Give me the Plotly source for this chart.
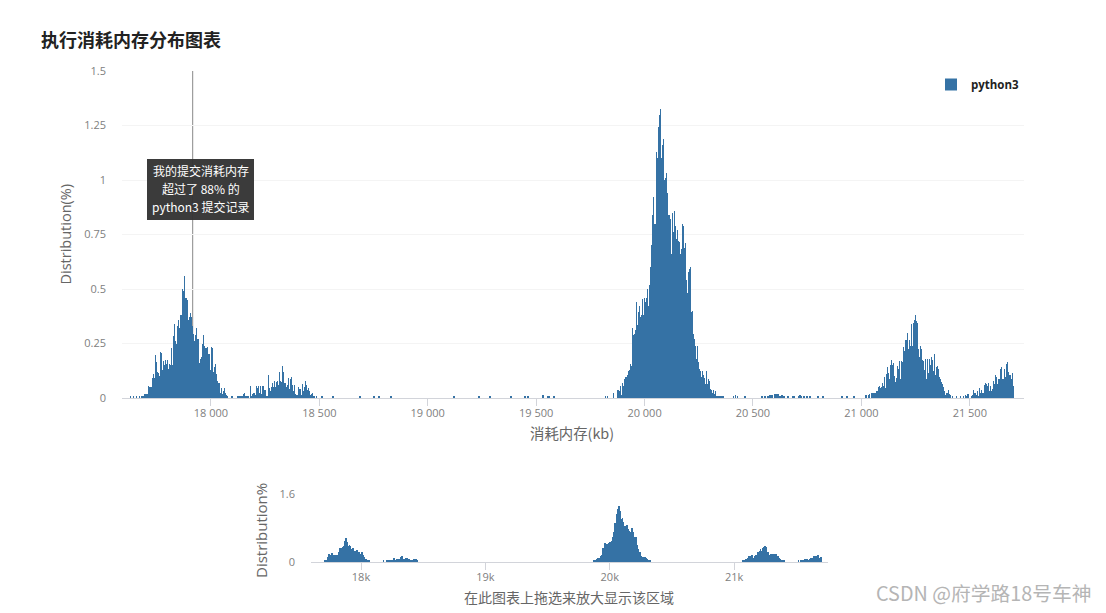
import plotly.graph_objects as go

REF_W, REF_H = 1106, 613
OFF = 8  # the page's own body margin
W, H = REF_W - OFF, REF_H - OFF
bin_kb = 4.612
color = "#3572A5"

start_a = 17629.2
cluster_a = [.005,0,0,.005,0,0,.005,0,0,.005,0,.01,.01,.01,.02,.02,.02,.02,.055,.05,.05,.05,.09,.11,.09,.195,.165,.12,.115,.10,
 .21,.205,.13,.17,.15,.175,.155,.175,.135,.155,.15,.23,.15,.285,.34,.26,.25,.33,.36,.32,.38,.38,.50,.49,.56,.46,.46,.45,.36,.37,
 .39,.37,.33,.295,.26,.29,.32,.27,.27,.16,.18,.19,.25,.29,.24,.23,.23,.235,.2,.2,.13,.235,.23,.12,.14,.155,.11,.08,.07,.07,
 .025,.045,.02,.03,.045,.025,.015,.01,0,0,0,.01,.005]

start_b = 18122.7
cluster_b = [.005,.005,.005,.005,.005,.005,.02,.025,.005,.01,.01,.005,0,.055,.005,.02,.025,.025,.015,.055,.045,.055,.025,.055,.02,.055,.055,.035,.035,.01,
 .01,.105,.045,.03,.05,.07,.05,.08,.05,.075,.08,.06,.12,.08,.075,.145,.12,.07,.07,.05,.06,.09,.04,.085,.095,.06,.03,.06,.02,.012,
 .015,.05,.04,.04,.015,.065,.03,.05,.08,.06,.035,.045,.03,.015,.02,.025,.005,.01,0,.005,0,0,0,0,.005,.01]

start_c = 19819.9
cluster_c = [.005,0,.01,0,0,0,0,0,.025,0,0,0,.035,.035,.03,.055,.015,.07,.055,.085,.095,.095,.105,.125,.13,.155,.145,.32,.29,.295,
 .31,.44,.335,.395,.42,.37,.38,.455,.38,.46,.44,.46,.50,.42,.52,.60,.70,.84,.92,.80,.80,1.13,1.10,1.245,1.30,1.325,1.10,1.16,1.19,1.0,
 1.01,1.03,.94,.84,.84,.82,.66,.85,.76,.86,.79,.73,.77,.72,.715,.66,.685,.80,.79,.69,.71,.54,.48,.58,.59,.60,.395,.40,.295,.27,
 .24,.18,.24,.165,.135,.125,.095,.125,.105,.09,.065,.125,.065,.085,.08,.04,.035,.025,.035,.02,.03,.005,.005,.005,.005,.005,.005,.005,.005,0,
 0,0,0,0,0,0,0,0,.005,0,.015,0,.005,0,0,0,0,0,0,.005,.005]

start_d = 21019.0
cluster_d = [.015,.015,0,.015,.02,0,.025,.025,.025,.025,.025,.03,.03,.05,.055,.045,.05,.07,.055,.095,.045,.11,.14,.115,.085,.15,.175,.15,.16,.10,
 .075,.09,.145,.135,.17,.085,.17,.165,.235,.215,.265,.265,.30,.225,.265,.24,.34,.24,.345,.36,.38,.355,.345,.225,.19,.24,.225,.175,.17,.13,
 .18,.085,.18,.115,.18,.15,.19,.175,.125,.20,.105,.14,.145,.135,.095,.085,.075,.065,.05,.03,.015,.025,.025,.035,.02,.015,0,.005,0,0,
 0,.005,0,0,0,.005,0,0,.005,0,.012,.005,.02,.02,0,0,.005,.015,.035,.025,.025,.015,.03,.005,.045,.025,.035,.025,.025,.06,
 .07,.065,.055,.07,.03,.055,.03,.04,.08,.065,.105,.095,.065,.085,.085,.135,.14,.085,.085,.135,.095,.155,.165,.12,.105,.105,.085,.115,.055]

sparse_x = [18563,18687,18752,18775,18830,19121,19236,19287,19384,19448,19463,19531,19554,19559,19582,
            20541,20555,20569,20578,20588,20601,20606,20615,20620,20624,20629,20634,20638,20643,20661,20684,20689,
            20712,20717,20721,20735,20749,20763,20800,20823,20910,20933,20966]
sparse_y = [.005,.005,.005,.005,.005,.005,.005,.005,.005,.005,.005,.015,.005,.005,.005,
            .005,.005,.005,.012,.012,.02,.02,.02,.005,.005,.005,.012,.005,.005,.005,.005,.005,
            .005,.012,.005,.005,.005,.005,.005,.005,.005,.005,.005]

main_y_ticks = [0, 0.25, 0.5, 0.75, 1, 1.25, 1.5]
main_y_labels = ["0", "0.25", "0.5", "0.75", "1", "1.25", "1.5"]
main_x_ticks = [18000, 18500, 19000, 19500, 20000, 20500, 21000, 21500]
main_x_labels = ["18 000", "18 500", "19 000", "19 500", "20 000", "20 500", "21 000", "21 500"]
nav_x_ticks = [18000, 19000, 20000, 21000]
nav_x_labels = ["18k", "19k", "20k", "21k"]
nav_y_ticks = [0, 1.6]
nav_y_labels = ["0", "1.6"]
my_memory_kb = 17916
nav_visible_from = 0.03
tooltip_lines = ["我的提交消耗内存", "超过了 88% 的", "python3 提交记录"]

xs, ys = [], []
for s, vals in [(start_a, cluster_a), (start_b, cluster_b), (start_c, cluster_c), (start_d, cluster_d)]:
    xs += [s + i * bin_kb for i in range(len(vals))]
    ys += vals
xs += sparse_x
ys += sparse_y
nav_pairs = [(a, b) for a, b in zip(xs, ys) if b >= nav_visible_from]

FONT = "Open Sans, Noto Sans CJK SC, sans-serif"
CJK = "Noto Sans CJK SC, sans-serif"
GRID = "#f4f4f4"
AX = "#d2d4da"
TICK = "#808080"
LAB = "#666666"

def px(a): return (a - OFF) / W
def py(b): return 1 - (b - OFF) / H
def dx(a, b): return [px(a), px(b)]
def dy(top, bottom): return [py(bottom), py(top)]

fig = go.Figure()
fig.add_trace(go.Bar(x=xs, y=ys, width=bin_kb, name="python3", marker=dict(color=color, line=dict(width=0)),
                     xaxis="x", yaxis="y", showlegend=True))
fig.add_trace(go.Bar(x=[p[0] for p in nav_pairs], y=[p[1] for p in nav_pairs], width=bin_kb, name="python3",
                     marker=dict(color=color, line=dict(width=0)), xaxis="x2", yaxis="y2", showlegend=False))

annotations = [
    dict(text="<b>执行消耗内存分布图表</b>", xref="paper", yref="paper", x=px(38.5), y=py(39), xanchor="left",
         yanchor="middle", showarrow=False, font=dict(family=CJK, size=18, color="#222222")),
    dict(text="CSDN @府学路18号车神", xref="paper", yref="paper", x=px(1094), y=py(592), xanchor="right", yanchor="middle",
         showarrow=False, font=dict(family=CJK, size=19.8, color="#b5b5b5")),
    dict(text="消耗内存(kb)", xref="paper", yref="paper", x=px(572), y=py(432.5), xanchor="center", yanchor="middle",
         showarrow=False, font=dict(family=CJK, size=14.4, color=LAB)),
    dict(text="在此图表上拖选来放大显示该区域", xref="paper", yref="paper", x=px(568.5), y=py(597), xanchor="center", yanchor="middle",
         showarrow=False, font=dict(family=CJK, size=14, color=LAB)),
    dict(text="Distribution(%)", xref="paper", yref="paper", x=px(65), y=py(234.5), xanchor="center", yanchor="middle",
         textangle=-90, showarrow=False, font=dict(family=FONT, size=14.5, color=LAB)),
    dict(text="Distribution%", xref="paper", yref="paper", x=px(261), y=py(531), xanchor="center", yanchor="middle",
         textangle=-90, showarrow=False, font=dict(family=FONT, size=15, color=LAB)),
]
for line, yc in zip(tooltip_lines, [170.5, 188.5, 206.5]):
    annotations.append(dict(text=line, xref="paper", yref="paper", x=px(200.5), y=py(yc), xanchor="center", yanchor="middle",
                            showarrow=False, font=dict(family=CJK, size=12, color="white")))

fig.update_layout(
    width=W, height=H, autosize=False,
    margin=dict(l=0, r=0, t=0, b=0),
    paper_bgcolor="white", plot_bgcolor="white",
    bargap=0, barmode="overlay",
    font=dict(family=FONT, size=11, color=TICK),
    xaxis=dict(domain=dx(122, 1024), range=[17590, 21750], tickvals=main_x_ticks, ticktext=main_x_labels, automargin=False,
               showgrid=False, showline=True, linecolor=AX, ticks="outside", ticklen=7, tickcolor=AX, zeroline=False,
               anchor="y", ticklabelstandoff=-2, tickfont=dict(size=11, color=TICK)),
    yaxis=dict(domain=dy(71, 398), range=[0, 1.5], tickvals=main_y_ticks, ticktext=main_y_labels, automargin=False,
               showgrid=True, gridcolor=GRID, zeroline=False, showline=False, anchor="x", ticks="",
               ticklabelstandoff=15, tickfont=dict(size=11, color=TICK)),
    xaxis2=dict(domain=dx(311, 828), range=[17598, 21755], tickvals=nav_x_ticks, ticktext=nav_x_labels, automargin=False,
                showgrid=False, showline=True, linecolor=AX, ticks="outside", ticklen=7, tickcolor=AX, zeroline=False,
                anchor="y2", ticklabelstandoff=-2, tickfont=dict(size=11, color=TICK)),
    yaxis2=dict(domain=dy(494, 562), range=[0, 1.6], tickvals=nav_y_ticks, ticktext=nav_y_labels, automargin=False,
                showgrid=True, gridcolor=GRID, zeroline=False, showline=False, anchor="x2", ticks="",
                ticklabelstandoff=15, tickfont=dict(size=11, color=TICK)),
    legend=dict(x=px(931), y=py(70), xanchor="left", yanchor="top", bgcolor="rgba(0,0,0,0)",
                font=dict(family=FONT, size=11.5, color="#222222", weight="bold"), itemwidth=30),
    shapes=[
        dict(type="line", xref="x", yref="y", x0=my_memory_kb, x1=my_memory_kb, y0=0, y1=1.5,
             line=dict(color="#888888", width=1), layer="below"),
        dict(type="rect", xref="paper", yref="paper", x0=px(147), x1=px(254), y0=py(220), y1=py(159),
             fillcolor="#333333", opacity=0.96, line=dict(width=0), layer="above"),
    ],
    annotations=annotations,
)
fig.write_html("out.html")
